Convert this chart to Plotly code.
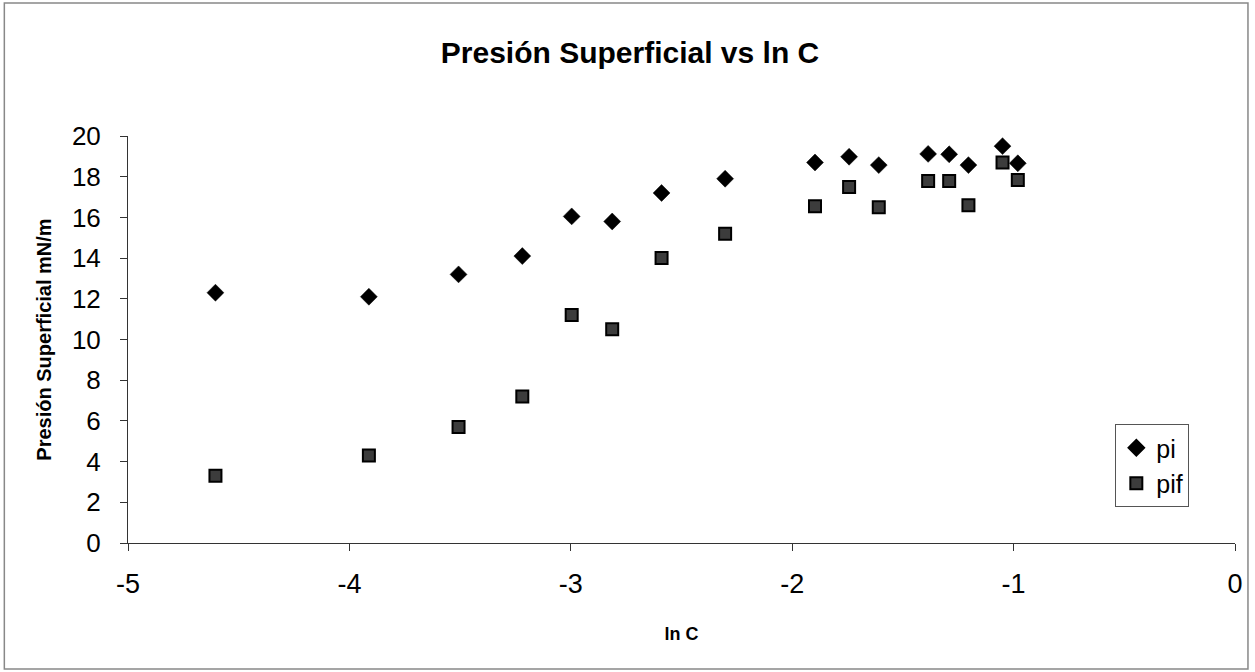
import numpy as np
import plotly.graph_objects as go

# Concentrations (ln C) and surface pressure values
ln_c = [-4.605, -3.912, -3.507, -3.219, -2.996, -2.813, -2.590, -2.303,
        -1.897, -1.743, -1.609, -1.386, -1.291, -1.204, -1.050, -0.981]
pi_vals = [12.3, 12.1, 13.2, 14.1, 16.05, 15.8, 17.2, 17.9,
           18.7, 18.98, 18.57, 19.12, 19.1, 18.57, 19.5, 18.66]
pif_vals = [3.3, 4.3, 5.7, 7.2, 11.2, 10.5, 14.0, 15.2,
            16.55, 17.5, 16.5, 17.79, 17.79, 16.6, 18.7, 17.84]

x_ticks = [-5, -4, -3, -2, -1, 0]
y_ticks = [0, 2, 4, 6, 8, 10, 12, 14, 16, 18, 20]

FONT = "Liberation Sans, Arial, sans-serif"

fig = go.Figure()
fig.add_trace(go.Scatter(
    x=ln_c, y=pi_vals, mode="markers", name="pi",
    marker=dict(symbol="diamond", size=13, color="black",
                line=dict(color="black", width=0.5)),
))
fig.add_trace(go.Scatter(
    x=ln_c, y=pif_vals, mode="markers", name="pif",
    marker=dict(symbol="square", size=12, color="#3c3c3c",
                line=dict(color="black", width=2)),
))

L, R, T, B = 128, 17, 136, 129
W, H = 1255, 672
pw, ph = W - L - R, H - T - B

def px(xp):
    return (xp - L) / pw

def py(yp):
    return (H - B - yp) / ph

fig.update_layout(
    width=W, height=H,
    margin=dict(l=L, r=R, t=T, b=B),
    paper_bgcolor="white", plot_bgcolor="white",
    font=dict(family=FONT, color="black"),
    title=dict(text="<b>Presión Superficial vs ln C</b>",
               x=630 / W, xanchor="center", xref="container",
               y=1 - 52 / H, yanchor="middle", yref="container",
               font=dict(size=30, family=FONT, color="black")),
    showlegend=True,
    legend=dict(x=px(1118), y=py(424), xanchor="left", yanchor="top",
                bordercolor="#555", borderwidth=1, bgcolor="white",
                font=dict(size=25, family=FONT, color="black"),
                itemsizing="constant", tracegroupgap=4),
    xaxis=dict(range=[-5, 0], tickvals=x_ticks, ticktext=[str(v) for v in x_ticks],
               showgrid=False, zeroline=False, showline=True,
               linecolor="#333", linewidth=1, ticks="outside", ticklen=7,
               tickcolor="#333", tickfont=dict(size=27, family=FONT),
               ticklabelstandoff=10,
               title=dict(text="<b>ln C</b>", font=dict(size=18, family=FONT),
                          standoff=28)),
    yaxis=dict(range=[0, 20], tickvals=y_ticks, ticktext=[str(v) for v in y_ticks],
               showgrid=False, zeroline=False, showline=True,
               linecolor="#333", linewidth=1, ticks="outside", ticklen=7,
               tickcolor="#333", tickfont=dict(size=26, family=FONT),
               ticklabelstandoff=14,
               title=dict(text="<b>Presión Superficial mN/m</b>",
                          font=dict(size=20, family=FONT), standoff=14)),
    shapes=[dict(type="rect", xref="paper", yref="paper",
                 x0=px(4), x1=px(1251), y0=py(669), y1=py(3),
                 line=dict(color="#888", width=1.5), fillcolor="rgba(0,0,0,0)",
                 layer="below")],
)

fig.write_html("out.html")
